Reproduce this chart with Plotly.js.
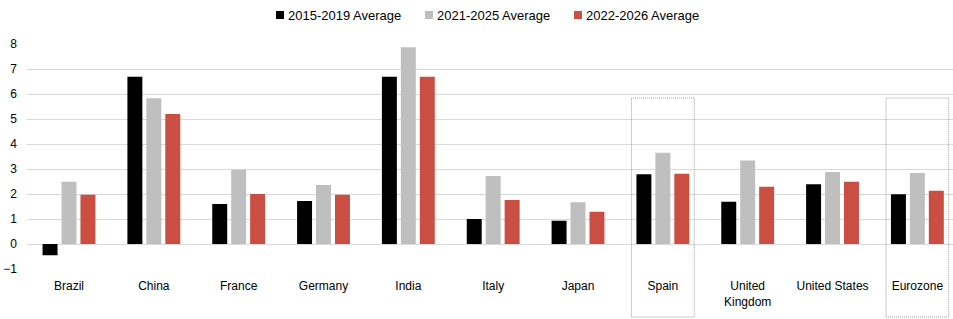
<!DOCTYPE html>
<html>
<head>
<meta charset="utf-8">
<script src="https://cdn.plot.ly/plotly-3.0.1.min.js"></script>
<style>html,body{margin:0;padding:0;background:#fff;}#chart{width:953px;height:319px;}</style>
</head>
<body>
<div id="chart"></div>
<script>
const categories = ["Brazil","China","France","Germany","India","Italy","Japan","Spain","United<br>Kingdom","United States","Eurozone"];
const seriesNames = ["2015-2019 Average","2021-2025 Average","2022-2026 Average"];
const avg2015_2019 = [-0.45, 6.69, 1.60, 1.72, 6.69, 1.00, 0.93, 2.79, 1.69, 2.39, 1.99];
const avg2021_2025 = [2.49, 5.83, 2.97, 2.36, 7.87, 2.72, 1.67, 3.65, 3.34, 2.88, 2.84];
const avg2022_2026 = [1.97, 5.20, 2.00, 1.97, 6.69, 1.76, 1.29, 2.81, 2.29, 2.49, 2.13];
const highlighted = ["Spain","Eurozone"];
const yTicks = [-1,0,1,2,3,4,5,6,7,8];

const colors = ["#000000","#bfbfbf","#cb4e42"];
const series = [avg2015_2019, avg2021_2025, avg2022_2026];

const W = 953, H = 319;
const M = {l: 27, r: 0, t: 44, b: 50};
const plotW = W - M.l - M.r, plotH = H - M.t - M.b;
const px2paperX = px => (px - M.l) / plotW;
const px2paperY = py => (H - M.b - py) / plotH;

const traces = series.map((vals, i) => ({
  type: "bar",
  name: seriesNames[i],
  x: categories,
  y: vals,
  marker: {color: colors[i], line: {width: 0}},
  hoverinfo: "skip",
  showlegend: false
}));

const shapes = highlighted.map(c => {
  const idx = categories.indexOf(c);
  return {
    type: "rect", xref: "x", yref: "paper",
    x0: idx - 0.37, x1: idx + 0.37,
    y0: px2paperY(317), y1: px2paperY(98),
    line: {color: "#9a9a9a", width: 1, dash: "1px,1px"},
    fillcolor: "rgba(0,0,0,0)",
    layer: "above"
  };
});

// manual legend (small square swatch + label)
const legendX = [276, 425, 574];
const annotations = [];
seriesNames.forEach((name, i) => {
  const x0 = legendX[i];
  shapes.push({
    type: "rect", xref: "paper", yref: "paper",
    x0: px2paperX(x0), x1: px2paperX(x0 + 8),
    y0: px2paperY(19), y1: px2paperY(11),
    line: {width: 0}, fillcolor: colors[i]
  });
  annotations.push({
    xref: "paper", yref: "paper",
    x: px2paperX(x0 + 10), y: px2paperY(15),
    xanchor: "left", yanchor: "middle",
    text: name, showarrow: false,
    font: {size: 13, color: "#000000"}
  });
});

const layout = {
  width: W, height: H,
  margin: M,
  paper_bgcolor: "#ffffff", plot_bgcolor: "#ffffff",
  font: {family: "Liberation Sans, Arial, sans-serif", size: 12, color: "#000000"},
  barmode: "group",
  bargap: 0.33,
  bargroupgap: 0.21,
  showlegend: false,
  xaxis: {type: "category", range: [-0.495, 10.42], showgrid: false, showline: false,
          ticks: "", tickfont: {size: 12}, ticklabelstandoff: 8, fixedrange: true},
  yaxis: {range: [-1, 8], tickvals: yTicks, showgrid: true, gridcolor: "#d9d9d9", gridwidth: 1,
          zeroline: false, showline: false, ticks: "", tickfont: {size: 12},
          ticklabelstandoff: 9, fixedrange: true},
  shapes: shapes,
  annotations: annotations
};

Plotly.newPlot("chart", traces, layout, {displayModeBar: false, staticPlot: true});
</script>
</body>
</html>
